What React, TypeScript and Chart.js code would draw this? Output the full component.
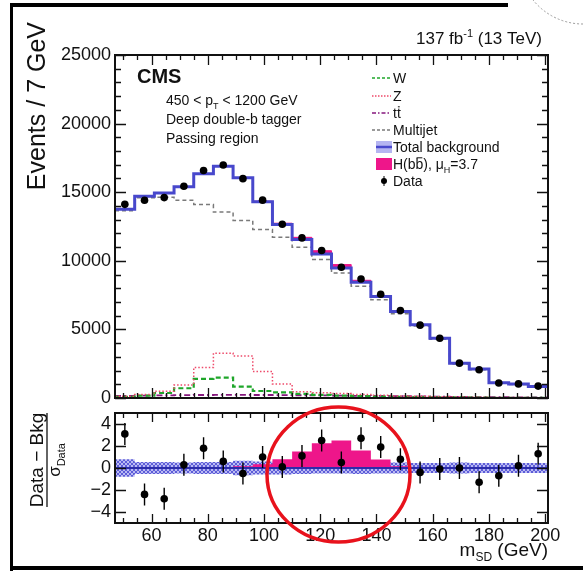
import React, { useEffect, useRef } from "react";
import { Chart, registerables } from "chart.js";

Chart.register(...registerables);

const W = 583;
const H = 573;
const FONT = '"Liberation Sans", Arial, Helvetica, sans-serif';

// Soft-drop mass binning (7 GeV bins)
const binEdges = [47, 54, 61, 68, 75, 82, 89, 96, 103, 110, 117, 124, 131, 138, 145, 152, 159, 166, 173, 180, 187, 194, 201];
const binCenters = [50.5, 57.5, 64.5, 71.5, 78.5, 85.5, 92.5, 99.5, 106.5, 113.5, 120.5, 127.5, 134.5, 141.5, 148.5, 155.5, 162.5, 169.5, 176.5, 183.5, 190.5, 197.5];

// Upper panel: events per bin
const totalBkg = [13750, 14700, 14950, 15400, 16350, 16900, 16050, 14300, 12650, 11550, 10500, 9480, 8430, 7400, 6310, 5340, 4360, 2540, 2120, 1120, 1020, 830];
const higgs = [0, 0, 0, 0, 0, 6, 19, 42, 90, 160, 235, 245, 150, 67, 12, 0, 0, 0, 0, 0, 0, 0];
const multijet = [13650, 14600, 14640, 14420, 14100, 13550, 12940, 12280, 11720, 10990, 10090, 9115, 8140, 7160, 6140, 5250, 4280, 2470, 2060, 1080, 980, 800];
const wJets = [80, 180, 365, 710, 1390, 1485, 830, 510, 415, 300, 230, 180, 140, 110, 90, 70, 55, 40, 30, 20, 15, 10];
const zJets = [120, 250, 500, 950, 2215, 3265, 3070, 1925, 1020, 460, 380, 320, 260, 200, 150, 120, 90, 70, 55, 40, 30, 25];
const ttbar = [150, 170, 190, 210, 220, 230, 230, 220, 210, 200, 190, 175, 160, 150, 130, 110, 95, 80, 65, 55, 45, 40];
const dataCounts = [14113, 14410, 14608, 15437, 16580, 16978, 15986, 14420, 12661, 11668, 10755, 9529, 8678, 7563, 6373, 5311, 4353, 2540, 2060, 1097, 1026, 868];

// Lower panel: (Data - Bkg) / sigma_Data
const pull = [3.1, -2.4, -2.8, 0.3, 1.8, 0.6, -0.5, 1.0, 0.1, 1.1, 2.5, 0.5, 2.7, 1.9, 0.8, -0.4, -0.1, 0.0, -1.3, -0.7, 0.2, 1.3];
const pullErr = [1, 1, 1, 1, 1, 1, 1, 1, 1, 1, 1, 1, 1, 1, 1, 1, 1, 1, 1, 1, 1, 1];
const higgsPull = [0, 0, 0, 0, 0, 0.05, 0.15, 0.35, 0.8, 1.5, 2.25, 2.5, 1.6, 0.77, 0.15, 0, 0, 0, 0, 0, 0, 0];
const bkgBand = [0.8, 0.55, 0.55, 0.5, 0.55, 0.55, 0.65, 0.6, 0.6, 0.55, 0.5, 0.5, 0.55, 0.5, 0.5, 0.45, 0.45, 0.5, 0.45, 0.45, 0.45, 0.45];

// Axis ticks
const mainYTicks = [0, 5000, 10000, 15000, 20000, 25000];
const ratioYTicks = [-4, -2, 0, 2, 4];
const xTicks = [60, 80, 100, 120, 140, 160, 180, 200];

const BLUE = "#4848cc";
const PINK = "#ee168a";
const GREEN = "#1fa62a";
const ZRED = "#ee4a6a";
const TTPURPLE = "#86187e";
const GREY = "#7a7a7a";

const stepPoints = (vals: number[]) => [
  ...vals.map((v, i) => ({ x: binEdges[i], y: v })),
  { x: binEdges[vals.length], y: vals[vals.length - 1] },
];

type Run = { t: string; sub?: boolean; sup?: boolean; bold?: boolean; over?: boolean };

function runFont(r: Run, size: number) {
  const s = r.sub || r.sup ? Math.round(size * 0.62) : size;
  return `${r.bold ? "bold " : ""}${s}px ${FONT}`;
}

function runsWidth(ctx: CanvasRenderingContext2D, runs: Run[], size: number) {
  let w = 0;
  for (const r of runs) {
    ctx.font = runFont(r, size);
    w += ctx.measureText(r.t).width;
  }
  return w;
}

function drawRuns(ctx: CanvasRenderingContext2D, runs: Run[], x: number, y: number, size: number, align: "left" | "right" | "center" = "left") {
  const w = runsWidth(ctx, runs, size);
  let cx = align === "right" ? x - w : align === "center" ? x - w / 2 : x;
  ctx.textAlign = "left";
  ctx.textBaseline = "alphabetic";
  for (const r of runs) {
    ctx.font = runFont(r, size);
    const dy = r.sub ? size * 0.28 : r.sup ? -size * 0.42 : 0;
    ctx.fillText(r.t, cx, y + dy);
    const tw = ctx.measureText(r.t).width;
    if (r.over) {
      ctx.save();
      ctx.lineWidth = 1;
      ctx.strokeStyle = ctx.fillStyle as string;
      ctx.beginPath();
      ctx.moveTo(cx + 1, y - size * 0.8);
      ctx.lineTo(cx + tw - 1, y - size * 0.8);
      ctx.stroke();
      ctx.restore();
    }
    cx += tw;
  }
}

function frameTicksPlugin(id: string, yMajor: number[], yMinor: number[], yMajLen: number, yMinLen: number, xMajLen: number, xMinLen: number) {
  return {
    id,
    afterDatasetsDraw(chart: any) {
      const { ctx, chartArea: a, scales } = chart;
      const xs = scales.x;
      const ys = scales.y;
      ctx.save();
      ctx.strokeStyle = "#111";
      ctx.lineWidth = 1.3;
      ctx.beginPath();
      const yTick = (v: number, len: number) => {
        const p = Math.round(ys.getPixelForValue(v)) + 0.5;
        ctx.moveTo(a.left, p);
        ctx.lineTo(a.left + len, p);
        ctx.moveTo(a.right, p);
        ctx.lineTo(a.right - len, p);
      };
      const xTick = (v: number, len: number) => {
        const p = Math.round(xs.getPixelForValue(v)) + 0.5;
        ctx.moveTo(p, a.bottom);
        ctx.lineTo(p, a.bottom - len);
        ctx.moveTo(p, a.top);
        ctx.lineTo(p, a.top + len);
      };
      yMajor.forEach((v) => yTick(v, yMajLen));
      yMinor.forEach((v) => yTick(v, yMinLen));
      for (let v = 50; v <= 200; v += 5) {
        xTick(v, v % 20 === 0 ? xMajLen : xMinLen);
      }
      ctx.stroke();
      ctx.lineWidth = 2;
      ctx.strokeRect(a.left, a.top, a.right - a.left, a.bottom - a.top);
      ctx.restore();
    },
  };
}

const mainTextPlugin = {
  id: "mainText",
  afterDraw(chart: any) {
    const { ctx } = chart;
    ctx.save();
    ctx.fillStyle = "#111";
    // luminosity / energy
    drawRuns(ctx, [{ t: "137 fb" }, { t: "-1", sup: true }, { t: " (13 TeV)" }], 542, 44, 17, "right");
    // y title
    ctx.save();
    ctx.translate(45, 22);
    ctx.rotate(-Math.PI / 2);
    drawRuns(ctx, [{ t: "Events / 7 GeV" }], 0, 0, 25, "right");
    ctx.restore();
    // experiment label and selection
    drawRuns(ctx, [{ t: "CMS", bold: true }], 137, 83, 20);
    drawRuns(ctx, [{ t: "450 < p" }, { t: "T", sub: true }, { t: " < 1200 GeV" }], 166, 105, 14);
    drawRuns(ctx, [{ t: "Deep double-b tagger" }], 166, 124, 14);
    drawRuns(ctx, [{ t: "Passing region" }], 166, 143, 14);

    // legend
    const lx0 = 372;
    const lx1 = 391;
    const tx = 393;
    const rows = [78, 96, 113, 130, 147, 164, 181];
    const lineEntry = (y: number, color: string, dash: number[], width: number) => {
      ctx.save();
      ctx.strokeStyle = color;
      ctx.lineWidth = width;
      ctx.setLineDash(dash);
      ctx.beginPath();
      ctx.moveTo(lx0, y);
      ctx.lineTo(lx1, y);
      ctx.stroke();
      ctx.restore();
    };
    lineEntry(rows[0], GREEN, [3, 2], 1.5);
    lineEntry(rows[1], ZRED, [1.5, 1.5], 1.5);
    lineEntry(rows[2], TTPURPLE, [4, 2, 1.5, 2], 1.5);
    lineEntry(rows[3], GREY, [3, 2], 1.5);
    // total background box
    ctx.fillStyle = "rgba(120,120,230,0.55)";
    ctx.fillRect(376, rows[4] - 6, 16, 12);
    ctx.strokeStyle = BLUE;
    ctx.lineWidth = 2.5;
    ctx.beginPath();
    ctx.moveTo(376, rows[4]);
    ctx.lineTo(392, rows[4]);
    ctx.stroke();
    // signal box
    ctx.fillStyle = PINK;
    ctx.fillRect(376, rows[5] - 6, 16, 12);
    // data marker
    ctx.fillStyle = "#000";
    ctx.beginPath();
    ctx.arc(384, rows[6], 3, 0, Math.PI * 2);
    ctx.fill();
    ctx.lineWidth = 1;
    ctx.strokeStyle = "#000";
    ctx.beginPath();
    ctx.moveTo(384, rows[6] - 5);
    ctx.lineTo(384, rows[6] + 5);
    ctx.stroke();

    ctx.fillStyle = "#111";
    const b = 5;
    drawRuns(ctx, [{ t: "W" }], tx, rows[0] + b, 14);
    drawRuns(ctx, [{ t: "Z" }], tx, rows[1] + b, 14);
    drawRuns(ctx, [{ t: "t" }, { t: "t", over: true }], tx, rows[2] + b, 14);
    drawRuns(ctx, [{ t: "Multijet" }], tx, rows[3] + b, 14);
    drawRuns(ctx, [{ t: "Total background" }], tx, rows[4] + b, 14);
    drawRuns(ctx, [{ t: "H(b" }, { t: "b", over: true }, { t: "), \u03bc" }, { t: "H", sub: true }, { t: "=3.7" }], tx, rows[5] + b, 14);
    drawRuns(ctx, [{ t: "Data" }], tx, rows[6] + b, 14);
    ctx.restore();
  },
};

const ratioTextPlugin = {
  id: "ratioText",
  afterDraw(chart: any) {
    const { ctx } = chart;
    ctx.save();
    ctx.fillStyle = "#111";
    // y title as a fraction
    ctx.save();
    ctx.translate(47, 460);
    ctx.rotate(-Math.PI / 2);
    drawRuns(ctx, [{ t: "Data \u2212 Bkg" }], 0, -4, 19, "center");
    ctx.strokeStyle = "#111";
    ctx.lineWidth = 1.3;
    ctx.beginPath();
    ctx.moveTo(-47, 0);
    ctx.lineTo(47, 0);
    ctx.stroke();
    drawRuns(ctx, [{ t: "\u03c3" }, { t: "Data", sub: true }], 0, 13, 17, "center");
    ctx.restore();
    // x title
    drawRuns(ctx, [{ t: "m" }, { t: "SD", sub: true }, { t: " (GeV)" }], 548, 556, 19, "right");

    // highlight ring around the signal region
    ctx.strokeStyle = "#e8121c";
    ctx.lineWidth = 3.5;
    ctx.beginPath();
    ctx.ellipse(338.5, 474.5, 71.5, 67.5, 0, 0, Math.PI * 2);
    ctx.stroke();

    // page frame
    ctx.fillStyle = "#000";
    ctx.fillRect(10, 3, 3, 568);
    ctx.fillRect(10, 3, 498, 4);
    ctx.fillRect(10, 566, 573, 4);
    // dashed arc in the corner
    ctx.strokeStyle = "#9a9a9a";
    ctx.lineWidth = 1;
    ctx.setLineDash([2, 2]);
    ctx.beginPath();
    ctx.arc(583, -40, 64, Math.PI * 0.5, Math.PI * 0.98);
    ctx.stroke();
    ctx.restore();
  },
};

function makeHatch(): CanvasPattern | string {
  const c = document.createElement("canvas");
  c.width = 4;
  c.height = 4;
  const g = c.getContext("2d");
  if (!g) return "rgba(110,110,225,0.5)";
  g.fillStyle = "rgba(140,140,235,0.6)";
  g.fillRect(0, 0, 4, 4);
  g.strokeStyle = "rgba(70,70,210,0.8)";
  g.lineWidth = 1;
  g.beginPath();
  g.moveTo(0, 0);
  g.lineTo(4, 4);
  g.moveTo(4, 0);
  g.lineTo(0, 4);
  g.stroke();
  const p = g.createPattern(c, "repeat");
  return p || "rgba(110,110,225,0.5)";
}

const yMinorMain: number[] = [];
for (let v = 1000; v < 25000; v += 1000) if (v % 5000 !== 0) yMinorMain.push(v);

export default function App() {
  const mainRef = useRef<HTMLCanvasElement>(null);
  const ratioRef = useRef<HTMLCanvasElement>(null);

  useEffect(() => {
    if (!mainRef.current || !ratioRef.current) return;
    const hatch = makeHatch();
    const tickFont = { family: FONT, size: 18 };

    const main = new Chart(mainRef.current, {
      type: "line",
      data: {
        datasets: [
          {
            label: "Data",
            data: binCenters.map((x, i) => ({ x, y: dataCounts[i] })),
            showLine: false,
            pointRadius: 3.8,
            pointBackgroundColor: "#000",
            pointBorderWidth: 0,
            order: 0,
          },
          {
            label: "Total background",
            data: stepPoints(totalBkg),
            stepped: true,
            borderColor: BLUE,
            borderWidth: 3,
            pointRadius: 0,
            fill: false,
            order: 1,
          },
          {
            label: "H(bb)",
            data: stepPoints(totalBkg.map((v, i) => v + higgs[i])),
            stepped: true,
            borderColor: PINK,
            borderWidth: 1,
            backgroundColor: PINK,
            pointRadius: 0,
            fill: 1,
            order: 2,
          },
          {
            label: "Multijet",
            data: stepPoints(multijet),
            stepped: true,
            borderColor: GREY,
            borderWidth: 1.5,
            borderDash: [4, 3],
            pointRadius: 0,
            fill: false,
            order: 3,
          },
          {
            label: "Z",
            data: stepPoints(zJets),
            stepped: true,
            borderColor: ZRED,
            borderWidth: 1.5,
            borderDash: [1.5, 2],
            pointRadius: 0,
            fill: false,
            order: 4,
          },
          {
            label: "W",
            data: stepPoints(wJets),
            stepped: true,
            borderColor: GREEN,
            borderWidth: 2.2,
            borderDash: [5, 3],
            pointRadius: 0,
            fill: false,
            order: 5,
          },
          {
            label: "tt",
            data: stepPoints(ttbar),
            stepped: true,
            borderColor: TTPURPLE,
            borderWidth: 1.8,
            borderDash: [6, 3, 2, 3],
            pointRadius: 0,
            fill: false,
            order: 6,
          },
        ],
      },
      options: {
        responsive: false,
        devicePixelRatio: 1,
        animation: false,
        events: [],
        layout: { padding: { left: 0, right: 35, top: 55, bottom: 175 } },
        plugins: { legend: { display: false }, tooltip: { enabled: false } },
        scales: {
          x: { type: "linear", min: 47, max: 201, display: false },
          y: {
            type: "linear",
            min: 0,
            max: 25000,
            grid: { display: false, drawTicks: false },
            border: { display: false },
            ticks: { font: tickFont, color: "#111", padding: 4, callback: (v: any) => String(v) },
            afterBuildTicks: (s: any) => {
              s.ticks = mainYTicks.map((value) => ({ value }));
            },
            afterFit: (s: any) => {
              s.width = 115;
            },
          },
        },
      },
      plugins: [frameTicksPlugin("mainFrame", mainYTicks, yMinorMain, 11, 6, 10, 5), mainTextPlugin],
    } as any);

    const ratio = new Chart(ratioRef.current, {
      type: "line",
      data: {
        datasets: [
          {
            label: "Data",
            data: binCenters.map((x, i) => ({ x, y: pull[i] })),
            showLine: false,
            pointRadius: 3.8,
            pointBackgroundColor: "#000",
            pointBorderWidth: 0,
            order: 0,
          },
          {
            label: "errors",
            data: binCenters.flatMap((x, i) => [
              { x, y: pull[i] - pullErr[i] },
              { x, y: pull[i] + pullErr[i] },
              { x, y: NaN },
            ]),
            borderColor: "#000",
            borderWidth: 1.4,
            pointRadius: 0,
            spanGaps: false,
            fill: false,
            order: 1,
          },
          {
            label: "Total background",
            data: stepPoints(totalBkg.map(() => 0)),
            stepped: true,
            borderColor: "#2c2caa",
            borderWidth: 2,
            pointRadius: 0,
            fill: false,
            order: 2,
          },
          {
            label: "H(bb)",
            data: stepPoints(higgsPull),
            stepped: true,
            borderWidth: 0,
            borderColor: PINK,
            backgroundColor: PINK,
            pointRadius: 0,
            fill: "origin",
            order: 3,
          },
          {
            label: "band up",
            data: stepPoints(bkgBand),
            stepped: true,
            borderWidth: 0,
            borderColor: "rgba(0,0,0,0)",
            backgroundColor: hatch,
            pointRadius: 0,
            fill: 5,
            order: 4,
          },
          {
            label: "band down",
            data: stepPoints(bkgBand.map((v) => -v)),
            stepped: true,
            borderWidth: 0,
            borderColor: "rgba(0,0,0,0)",
            pointRadius: 0,
            fill: false,
            order: 5,
          },
        ],
      },
      options: {
        responsive: false,
        devicePixelRatio: 1,
        animation: false,
        events: [],
        layout: { padding: { left: 0, right: 35, top: 413, bottom: 0 } },
        plugins: { legend: { display: false }, tooltip: { enabled: false } },
        scales: {
          x: {
            type: "linear",
            min: 47,
            max: 201,
            grid: { display: false, drawTicks: false },
            border: { display: false },
            ticks: { font: tickFont, color: "#111", padding: 2, autoSkip: false, maxRotation: 0, callback: (v: any) => String(v) },
            afterBuildTicks: (s: any) => {
              s.ticks = xTicks.map((value) => ({ value }));
            },
            afterFit: (s: any) => {
              s.height = 50;
            },
          },
          y: {
            type: "linear",
            min: -5,
            max: 5,
            grid: { display: false, drawTicks: false },
            border: { display: false },
            ticks: {
              font: tickFont,
              color: "#111",
              padding: 4,
              callback: (v: any) => (v < 0 ? "\u2212" + Math.abs(v) : String(v)),
            },
            afterBuildTicks: (s: any) => {
              s.ticks = ratioYTicks.map((value) => ({ value }));
            },
            afterFit: (s: any) => {
              s.width = 115;
            },
          },
        },
      },
      plugins: [frameTicksPlugin("ratioFrame", ratioYTicks, [], 11, 6, 9, 5), ratioTextPlugin],
    } as any);

    return () => {
      main.destroy();
      ratio.destroy();
    };
  }, []);

  return (
    <div style={{ position: "fixed", left: 0, top: 0, width: W, height: H, background: "#fff" }}>
      <canvas ref={mainRef} width={W} height={H} style={{ position: "absolute", left: 0, top: 0, width: W, height: H }} />
      <canvas ref={ratioRef} width={W} height={H} style={{ position: "absolute", left: 0, top: 0, width: W, height: H }} />
    </div>
  );
}
